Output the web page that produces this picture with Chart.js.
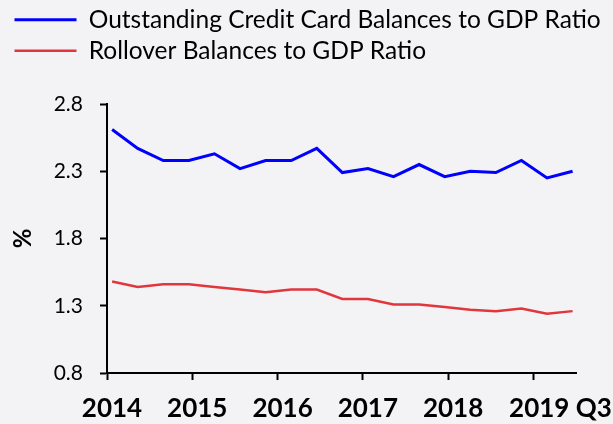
<!DOCTYPE html>
<html>
<head>
<meta charset="utf-8">
<script src="https://cdn.jsdelivr.net/npm/chart.js@4/dist/chart.umd.min.js"></script>
<style>
  html, body { margin: 0; padding: 0; background: #f3f3f5; }
  #wrap { width: 613px; height: 424px; }
</style>
</head>
<body>
<div id="wrap"><canvas id="c" width="613" height="424"></canvas></div>
<script>
// ---- Data ----
const seriesNames = ['Outstanding Credit Card Balances to GDP Ratio', 'Rollover Balances to GDP Ratio'];
const xPositions = [2014.06, 2014.36, 2014.66, 2014.96, 2015.26, 2015.56, 2015.86, 2016.16, 2016.46, 2016.76,
                    2017.06, 2017.36, 2017.66, 2017.96, 2018.26, 2018.56, 2018.86, 2019.16, 2019.46];
const outstandingRatio = [2.61, 2.47, 2.38, 2.38, 2.43, 2.32, 2.38, 2.38, 2.47, 2.29,
                          2.32, 2.26, 2.35, 2.26, 2.30, 2.29, 2.38, 2.25, 2.30];
const rolloverRatio = [1.48, 1.44, 1.46, 1.46, 1.44, 1.42, 1.40, 1.42, 1.42, 1.35,
                       1.35, 1.31, 1.31, 1.29, 1.27, 1.26, 1.28, 1.24, 1.26];
const yearTicks = [2014, 2015, 2016, 2017, 2018, 2019];
const yearTickLabels = ['2014', '2015', '2016', '2017', '2018', '       2019 Q3'];
const yTicks = [0.8, 1.3, 1.8, 2.3, 2.8];
const yTitle = '%';

const toPoints = (xs, ys) => xs.map((x, i) => ({ x: x, y: ys[i] }));

const bgPlugin = {
  id: 'bg',
  beforeDraw(chart) {
    const ctx = chart.ctx;
    ctx.save();
    ctx.fillStyle = '#f3f3f5';
    ctx.fillRect(0, 0, chart.width, chart.height);
    ctx.restore();
  }
};
const legendHeightPlugin = {
  id: 'legendHeight',
  beforeInit(chart) {
    const lg = chart.legend;
    if (!lg) return;
    const origFit = lg.fit;
    lg.fit = function () {
      origFit.call(this);
      this.height = 103;
    };
  }
};

new Chart(document.getElementById('c'), {
  type: 'line',
  data: {
    datasets: [
      {
        label: seriesNames[0],
        data: toPoints(xPositions, outstandingRatio),
        borderColor: '#0000ff',
        backgroundColor: '#0000ff',
        borderWidth: 3,
        pointRadius: 0,
        tension: 0,
        pointStyle: 'line'
      },
      {
        label: seriesNames[1],
        data: toPoints(xPositions, rolloverRatio),
        borderColor: '#e0363c',
        backgroundColor: '#e0363c',
        borderWidth: 2.5,
        pointRadius: 0,
        tension: 0,
        pointStyle: 'line'
      }
    ]
  },
  options: {
    responsive: false,
    animation: false,
    layout: { padding: { left: 8, right: 0, top: 1, bottom: 0 } },
    plugins: {
      tooltip: { enabled: false },
      legend: {
        display: true,
        position: 'top',
        align: 'start',
        labels: {
          usePointStyle: true,
          pointStyleWidth: 62,
          padding: 6.5,
          color: '#000',
          font: { family: 'Lato', size: 24.5 }
        }
      }
    },
    scales: {
      x: {
        type: 'linear',
        min: 2014,
        max: 2019.5,
        afterBuildTicks(s) { s.ticks = yearTicks.map(v => ({ value: v })); },
        afterFit(s) { s.height = 51; s.paddingLeft = 0; s.paddingRight = 37; },
        ticks: {
          autoSkip: false,
          maxRotation: 0,
          minRotation: 0,
          labelOffset: 5,
          padding: 13,
          color: '#000',
          font: { family: 'Lato', size: 26, weight: 'bold' },
          callback(v) { const i = yearTicks.indexOf(v); return i >= 0 ? yearTickLabels[i] : ''; }
        },
        grid: { display: true, drawOnChartArea: false, drawTicks: true, tickLength: 7, tickColor: '#000', tickWidth: 2 },
        border: { display: true, color: '#000', width: 2 }
      },
      y: {
        type: 'linear',
        min: 0.8,
        max: 2.8,
        afterBuildTicks(s) { s.ticks = yTicks.map(v => ({ value: v })); },
        afterFit(s) { s.width = 99; },
        ticks: {
          padding: 17,
          color: '#000',
          font: { family: 'Lato', size: 21 },
          callback(v) { return Number(v).toFixed(1); }
        },
        title: {
          display: true,
          text: yTitle,
          color: '#000',
          padding: { top: 1, bottom: 0 },
          font: { family: 'Lato', size: 24, weight: 'bold' }
        },
        grid: { display: true, drawOnChartArea: false, drawTicks: true, tickLength: 7, tickColor: '#000', tickWidth: 2 },
        border: { display: true, color: '#000', width: 2 }
      }
    }
  },
  plugins: [bgPlugin, legendHeightPlugin]
});
</script>
</body>
</html>
